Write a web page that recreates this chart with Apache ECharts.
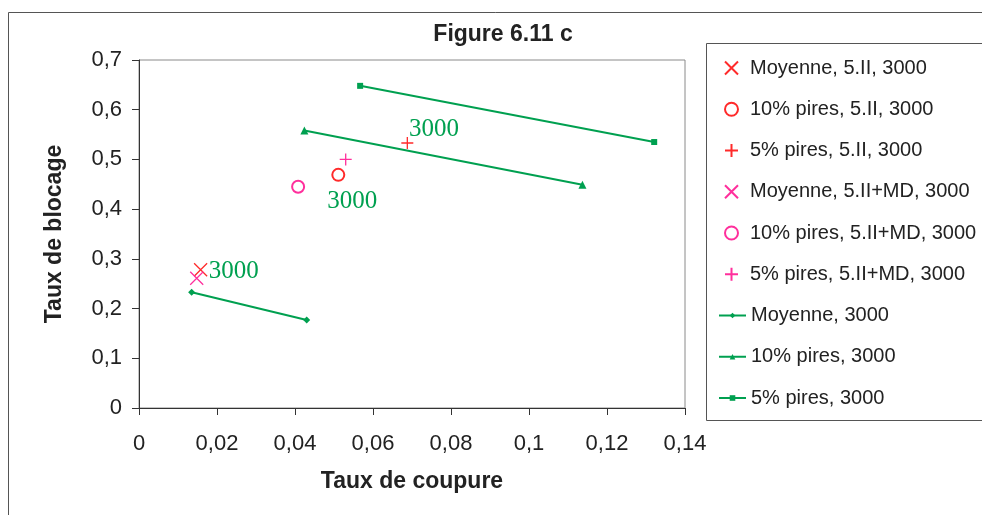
<!DOCTYPE html>
<html>
<head>
<meta charset="utf-8">
<script src="https://cdn.jsdelivr.net/npm/echarts@6/dist/echarts.min.js"></script>
<style>
html,body{margin:0;padding:0;background:#fff;}
#chart{width:982px;height:515px;}
</style>
</head>
<body>
<div id="chart"></div>
<script>
// ---- data ----
var titleText = 'Figure 6.11 c';
var xAxisName = 'Taux de coupure';
var yAxisName = 'Taux de blocage';
var xTicks = [0, 0.02, 0.04, 0.06, 0.08, 0.1, 0.12, 0.14];
var yTicks = [0, 0.1, 0.2, 0.3, 0.4, 0.5, 0.6, 0.7];

var scatterNames = [
  'Moyenne, 5.II, 3000',
  '10% pires, 5.II, 3000',
  '5% pires, 5.II, 3000',
  'Moyenne, 5.II+MD, 3000',
  '10% pires, 5.II+MD, 3000',
  '5% pires, 5.II+MD, 3000'
];
var lineNames = [
  'Moyenne, 3000',
  '10% pires, 3000',
  '5% pires, 3000'
];
var moyenne5II     = [[0.0158, 0.278]];
var pires10_5II    = [[0.0511, 0.469]];
var pires5_5II     = [[0.0688, 0.533]];
var moyenne5IIMD   = [[0.0148, 0.261]];
var pires10_5IIMD  = [[0.0408, 0.445]];
var pires5_5IIMD   = [[0.0530, 0.500]];
var moyenneLine    = [[0.0135, 0.233], [0.0430, 0.177]];
var pires10Line    = [[0.0424, 0.558], [0.1137, 0.449]];
var pires5Line     = [[0.0567, 0.648], [0.1321, 0.535]];
var pointLabel = '3000';

// ---- styles ----
var RED = '#ff2a2a', MAG = '#ff2f9c', GREEN = '#00a050';
var X_PATH = 'path://M0,0L10,10M10,0L0,10';
var PLUS_PATH = 'path://M5,0L5,10M0,5L10,5';
var sansFont = '"Liberation Sans", Arial, sans-serif';

function fmt(v){ return String(parseFloat(v.toFixed(2))).replace('.', ','); }

function labelled(data, lab){
  return data.map(function(p){ return {value: p, label: lab}; });
}
var labStyle = {show: true, formatter: pointLabel, color: GREEN, fontFamily: '"Liberation Serif", "Times New Roman", serif', fontSize: 25};

function scatter(name, data, symbol, color, size){
  return {
    name: name, type: 'scatter', data: data, symbol: symbol, symbolSize: size || 12,
    symbolKeepAspect: true,
    itemStyle: {color: symbol === 'emptyCircle' ? color : 'transparent', borderColor: color, borderWidth: 1.3, opacity: 1},
    emphasis: {disabled: true}, z: 5
  };
}
function lineS(name, data, symbol, size){
  return {
    name: name, type: 'line', data: data, symbol: symbol, symbolSize: size, showSymbol: true,
    lineStyle: {color: GREEN, width: 2}, itemStyle: {color: GREEN, borderWidth: 0},
    emphasis: {disabled: true}, z: 3
  };
}

var series = [
  scatter(scatterNames[0], labelled(moyenne5II, Object.assign({}, labStyle, {position: 'right', distance: 1, offset: [0, 2]})), X_PATH, RED, 13),
  scatter(scatterNames[1], labelled(pires10_5II, Object.assign({}, labStyle, {position: 'bottom', distance: 2, offset: [14, 5]})), 'emptyCircle', RED, 12),
  scatter(scatterNames[2], labelled(pires5_5II, Object.assign({}, labStyle, {position: 'right', distance: 0, offset: [-5, -14]})), PLUS_PATH, RED, 12),
  scatter(scatterNames[3], moyenne5IIMD, X_PATH, MAG, 13),
  scatter(scatterNames[4], pires10_5IIMD, 'emptyCircle', MAG, 12),
  scatter(scatterNames[5], pires5_5IIMD, PLUS_PATH, MAG, 12),
  lineS(lineNames[0], moyenneLine, 'diamond', 7),
  lineS(lineNames[1], pires10Line, 'triangle', 8),
  lineS(lineNames[2], pires5Line, 'rect', 6)
];

var legendText = {fontFamily: sansFont, fontSize: 20, color: '#222', lineHeight: 20};
var ROW = 41.25;

var chart = echarts.init(document.getElementById('chart'), null, {renderer: 'canvas'});
chart.setOption({
  animation: false,
  backgroundColor: '#fff',
  title: {
    text: titleText, left: 498, top: 18, textAlign: 'center',
    textStyle: {fontFamily: sansFont, fontWeight: 'bold', fontSize: 23, color: '#222'}
  },
  grid: {left: 139, right: 297, top: 60, bottom: 107, show: true, borderColor: '#8a8a8a', borderWidth: 1, backgroundColor: 'transparent'},
  xAxis: {
    type: 'value', min: xTicks[0], max: xTicks[xTicks.length - 1], interval: 0.02,
    name: xAxisName, nameLocation: 'middle', nameGap: 62,
    nameTextStyle: {fontFamily: sansFont, fontWeight: 'bold', fontSize: 23, color: '#222'},
    axisLine: {show: true, lineStyle: {color: '#333', width: 1}},
    axisTick: {show: true, inside: false, length: 7, lineStyle: {color: '#333'}},
    axisLabel: {formatter: fmt, fontFamily: sansFont, fontSize: 22, color: '#222', margin: 25},
    splitLine: {show: false}
  },
  yAxis: {
    type: 'value', min: yTicks[0], max: yTicks[yTicks.length - 1], interval: 0.1,
    name: yAxisName, nameLocation: 'middle', nameGap: 73,
    nameTextStyle: {fontFamily: sansFont, fontWeight: 'bold', fontSize: 23, color: '#222'},
    axisLine: {show: true, lineStyle: {color: '#333', width: 1}},
    axisTick: {show: true, inside: false, length: 7, lineStyle: {color: '#333'}},
    axisLabel: {formatter: fmt, fontFamily: sansFont, fontSize: 22, color: '#222', margin: 17},
    splitLine: {show: false}
  },
  legend: [
    {
      orient: 'vertical', left: 724, top: 58, padding: 0,
      itemWidth: 27, itemHeight: 13, itemGap: ROW - 20,
      textStyle: legendText, data: scatterNames, selectedMode: false
    },
    {
      orient: 'vertical', left: 718, top: 58 + 6 * ROW, padding: 0,
      itemWidth: 27, itemHeight: 7, itemGap: ROW - 20,
      textStyle: legendText, data: lineNames, selectedMode: false
    }
  ],
  graphic: [
    {type: 'rect', shape: {x: 8.5, y: 12.5, width: 1000, height: 600}, style: {fill: 'none', stroke: '#555', lineWidth: 1}, silent: true, z: -1},
    {type: 'rect', shape: {x: 706.5, y: 43.5, width: 300, height: 377}, style: {fill: 'none', stroke: '#555', lineWidth: 1}, silent: true, z: -1}
  ],
  series: series
});
</script>
</body>
</html>
